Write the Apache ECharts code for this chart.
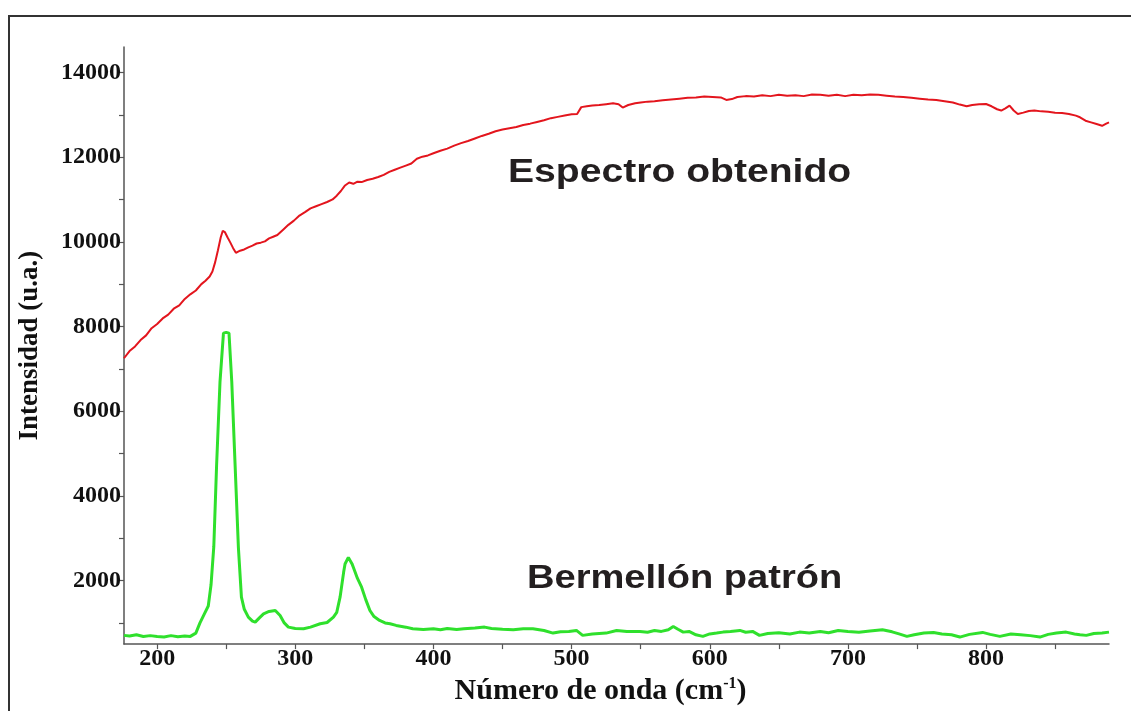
<!DOCTYPE html>
<html>
<head>
<meta charset="utf-8">
<script src="https://cdn.jsdelivr.net/npm/echarts@6/dist/echarts.min.js"></script>
<style>
html,body{margin:0;padding:0;background:#fff;}
#chart{width:1131px;height:711px;}
</style>
</head>
<body>
<div id="chart"></div>
<script>
// ---- data ----
const redX = [176,180,184,188,192,196,200,204,208,212,216,220,224,228,232,235,238,240,242,244,246,247.5,249,251,253,255,257,260,263,266,269,272,275,278,281,284,287,291,295,299,303,307,311,315,319,323,327,330,333,336,339,342,345,348,352,356,360,364,368,372,376,380,384,388,392,396,400,405,410,415,420,425,430,435,440,445,450,455,460,465,470,475,480,485,490,495,500,504,507,511,515,520,525,530,534,537,541,546,550,555,560,566,572,578,584,590,596,602,608,612,616,620,626,632,638,644,650,656,662,668,674,680,686,692,698,704,710,716,722,728,734,740,746,752,758,764,770,776,781,786,790,795,800,804,808,811,814,817,820,823,827,831,835,840,845,850,855,860,865,868,872,876,880,884,887,889];
const redY = [7250,7420,7530,7680,7790,7960,8060,8190,8280,8420,8500,8650,8760,8850,9000,9080,9180,9300,9520,9800,10100,10260,10230,10100,9980,9850,9740,9790,9820,9870,9910,9960,9980,10010,10080,10120,10160,10280,10400,10500,10620,10700,10790,10840,10890,10940,11000,11090,11200,11330,11400,11370,11420,11410,11460,11490,11530,11580,11650,11700,11750,11800,11850,11960,12010,12040,12090,12150,12200,12270,12330,12380,12440,12500,12550,12610,12650,12680,12710,12760,12790,12830,12870,12920,12950,12980,13010,13020,13180,13200,13220,13230,13250,13270,13250,13170,13230,13270,13290,13310,13320,13340,13360,13380,13400,13410,13430,13420,13410,13350,13370,13420,13440,13430,13460,13440,13470,13450,13460,13440,13480,13470,13450,13470,13440,13470,13460,13480,13470,13450,13430,13420,13400,13380,13360,13350,13320,13290,13240,13200,13230,13250,13255,13200,13130,13100,13150,13215,13100,13020,13050,13090,13100,13080,13070,13050,13040,13020,12980,12940,12860,12820,12780,12740,12790,12820];

const greenX = [176,180,185,190,195,200,205,210,215,220,224,228,231,234,237,239,241,243,245.5,248,250,252,254,256.4,258.8,261,263,266,269,271,274,277,281,285.5,289,292,295,300,306,311,318,323,327.6,330,332.4,335,336,338.4,341,342,345,348,351,354,357,361,365,368.6,373,380,385,392.7,400,405,410,416.8,422,430,437,442,450,457.8,465,472,480,486.6,492,498,503.5,508,515,520,525,532.6,540,549.5,555,560,565,570,573.6,577,580.8,585,590,595,600,605,609.6,615,621.8,626,631,636,642,650,658,665,672,680,686,693,700,708,716,725,732,737,742.7,748,755,762,768,775,781,788,797.5,803,810,818,825,832,839,845,851,858,864,868,872.6,878,884,889];
const greenY = [706,690,720,680,700,682,670,700,675,690,682,760,1000,1200,1400,1900,2800,4700,6700,7843,7860,7843,6700,4744,2784,1608,1330,1137,1042,1019,1120,1215,1270,1294,1176,1000,901,870,861,900,980,1010,1137,1250,1608,2200,2392,2548,2400,2313,2050,1843,1550,1294,1150,1059,1000,980,941,900,861,847,860,840,870,847,860,880,901,870,850,838,860,861,820,760,790,800,823,706,740,750,760,823,800,800,780,820,800,840,917,850,783,800,720,682,740,760,783,800,823,780,800,706,750,770,740,783,760,800,770,823,800,780,810,838,790,740,682,720,760,776,740,720,666,730,776,730,682,740,720,700,666,730,760,783,740,720,706,750,760,783];

const xTickValues = [200,250,300,350,400,450,500,550,600,650,700,750,800,850];
const xLabelValues = [200,300,400,500,600,700,800];
const yTickValues = [1000,2000,3000,4000,5000,6000,7000,8000,9000,10000,11000,12000,13000,14000];
const yLabelValues = [2000,4000,6000,8000,10000,12000,14000];

const seriesNames = ['Espectro obtenido','Bermellón patrón'];
const xTitle = ['Número de onda (cm', '-1', ')'];
const yTitle = 'Intensidad (u.a.)';

function pairs(xs, ys){ return xs.map((x,i)=>[x, ys[i]]); }

const serif = '"Liberation Serif","Times New Roman",serif';
const sans = '"Liberation Sans",Arial,sans-serif';

const chart = echarts.init(document.getElementById('chart'), null, {renderer:'canvas'});
chart.setOption({
  animation:false,
  backgroundColor:'#ffffff',
  grid:{left:124, right:22, top:47, bottom:64, containLabel:false},
  xAxis:{
    type:'value', min:176, max:889,
    axisLine:{show:true, onZero:false, lineStyle:{color:'#555', width:1.5}},
    axisTick:{show:true, inside:false, length:5, customValues:xTickValues, lineStyle:{color:'#555', width:1.2}},
    axisLabel:{customValues:xLabelValues, formatter:v=>String(v), color:'#111', fontFamily:serif, fontWeight:'bold', fontSize:24, margin:3},
    splitLine:{show:false},
    name:'{a|'+xTitle[0]+'}{s|'+xTitle[1]+'}{a|'+xTitle[2]+'}',
    nameLocation:'middle', nameGap:29,
    nameTextStyle:{padding:[0,32,0,0], rich:{
      a:{fontFamily:serif, fontWeight:'bold', fontSize:30, color:'#111'},
      s:{fontFamily:serif, fontWeight:'bold', fontSize:16, color:'#111', verticalAlign:'top', padding:[0,0,14,0]}
    }}
  },
  yAxis:{
    type:'value', min:500, max:14600,
    axisLine:{show:true, lineStyle:{color:'#555', width:1.5}},
    axisTick:{show:true, inside:false, length:5, customValues:yTickValues, lineStyle:{color:'#555', width:1.2}},
    axisLabel:{customValues:yLabelValues, formatter:v=>String(v), color:'#111', fontFamily:serif, fontWeight:'bold', fontSize:24, margin:3},
    splitLine:{show:false},
    name:yTitle, nameLocation:'middle', nameGap:80,
    nameTextStyle:{fontFamily:serif, fontWeight:'bold', fontSize:27, color:'#111'}
  },
  series:[
    {name:seriesNames[0], type:'line', data:pairs(redX, redY), showSymbol:false, symbol:'none',
     lineStyle:{color:'#e3151d', width:2}, z:3},
    {name:seriesNames[1], type:'line', data:pairs(greenX, greenY), showSymbol:false, symbol:'none',
     lineStyle:{color:'#2fe02c', width:3}, z:2}
  ],
  graphic:[
    {type:'rect', shape:{x:9, y:16, width:1200, height:800}, style:{fill:'none', stroke:'#333', lineWidth:2}, silent:true, z:0},
    {type:'text', x:508, y:156, scaleX:1.15, style:{text:seriesNames[0], font:'bold 34px '+sans, fill:'#231f20'}},
    {type:'text', x:527, y:562, scaleX:1.12, style:{text:seriesNames[1], font:'bold 34px '+sans, fill:'#231f20'}}
  ]
});
</script>
</body>
</html>
